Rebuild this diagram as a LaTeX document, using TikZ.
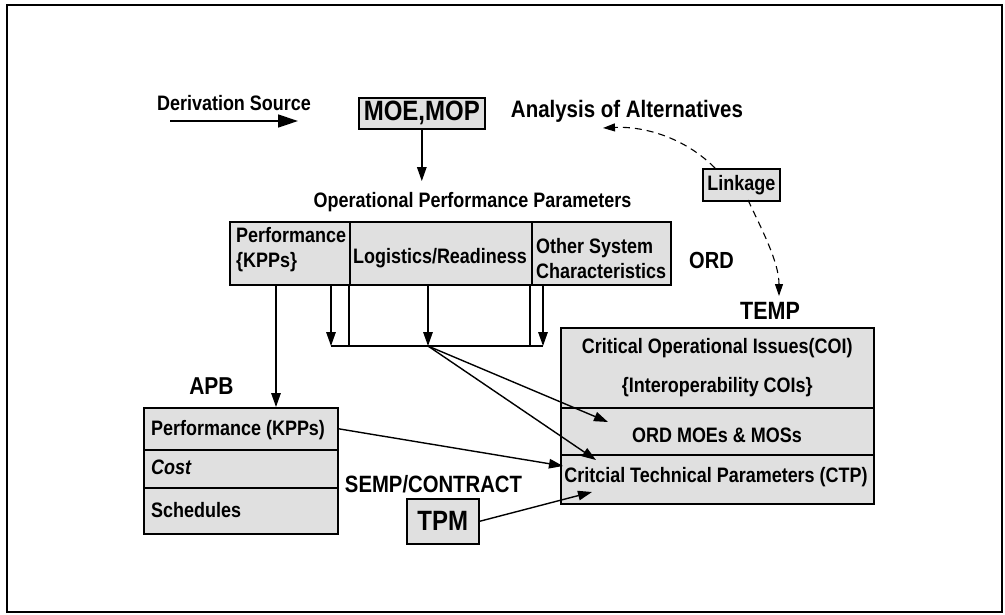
\documentclass[tikz,border=0pt]{standalone}
\usepackage{fontspec}
\setmainfont{Liberation Sans}[FakeStretch=0.86]
\usetikzlibrary{arrows.meta}

\begin{document}
\begin{tikzpicture}[x=1pt,y=-1pt,
  txt/.style={font=\fontsize{20.9}{25}\selectfont\bfseries, inner sep=0pt},
  head/.style={inner sep=0pt, font=\fontsize{#1}{25}\selectfont\bfseries},
  cell/.style={draw, line width=1.6pt, fill=black!12, inner sep=0pt, anchor=north west},
  conn/.style={line width=1.4pt, -{Triangle[length=14pt,width=9.5pt]}},
  plain/.style={line width=1.4pt},
  linkage/.style={line width=1.1pt, dash pattern=on 7pt off 5pt, -{Triangle[length=12pt,width=8pt]}},
]
\useasboundingbox (0,0) rectangle (1005,614);
\draw[line width=1.5pt] (7,5) rectangle (1002,612);

% legend
\node[txt] (deriv) at (234,103) {Derivation Source};
\coordinate (ds1) at (170,121);
\coordinate (ds2) at (298,121);
\draw[line width=1.4pt, -{Triangle[length=20pt,width=13pt]}] (ds1) -- (ds2);

% top row
\node[cell, minimum width=126pt, minimum height=31pt, font=\fontsize{27.9}{30}\selectfont\bfseries] (moe) at (358,97) {MOE,MOP};
\node[head=23.8] (aoa) at (627,111) {Analysis of Alternatives};
\node[cell, minimum width=77pt, minimum height=32pt, font=\fontsize{20.9}{25}\selectfont\bfseries] (link) at (702,168) {Linkage};

% operational requirements document
\node[txt] (opp) at (472.5,202) {Operational Performance Parameters};
\node[cell, minimum width=120pt, minimum height=63pt] (ordA) at (229,221) {};
\node[cell, minimum width=182pt, minimum height=63pt] (ordB) at (349,221) {};
\node[cell, minimum width=139pt, minimum height=63pt] (ordC) at (531,221) {};
\node[txt, anchor=west, align=left] (ordAt) at (236,249.5) {Performance\\\{KPPs\}};
\node[txt] (ordBt) at (440,258) {Logistics/Readiness};
\node[txt, anchor=west, align=left] (ordCt) at (536,258.5) {Other System\\Characteristics};
\node[head=23.3] (ord) at (711.5,260) {ORD};

% test and evaluation master plan
\node[head=25] (temp) at (770,311) {TEMP};
\node[cell, minimum width=313pt, minimum height=80pt, align=center, font=\fontsize{20.9}{39}\selectfont\bfseries] (coi) at (560,327) {Critical Operational Issues(COI)\\\{Interoperability COIs\}};
\node[cell, minimum width=313pt, minimum height=47pt] (moes) at (560,407) {};
\node[txt] (moest) at (717,435) {ORD MOEs \& MOSs};
\node[cell, minimum width=313pt, minimum height=49pt] (ctp) at (560,454) {};
\node[txt] (ctpt) at (716,477) {Critcial Technical Parameters (CTP)};

% acquisition program baseline
\node[head=24.4] (apb) at (211.5,386) {APB};
\node[cell, minimum width=194pt, minimum height=42pt] (apbP) at (143,407) {};
\node[cell, minimum width=194pt, minimum height=38pt] (apbC) at (143,449) {};
\node[cell, minimum width=194pt, minimum height=46pt] (apbS) at (143,487) {};
\node[txt, anchor=west] (apbPt) at (151,430) {Performance (KPPs)};
\node[txt, anchor=west, font=\fontsize{20.9}{25}\selectfont\bfseries\itshape] (apbCt) at (151,467) {Cost};
\node[txt, anchor=west] (apbSt) at (151,510) {Schedules};

\node[head=23.6] (semp) at (433.5,484) {SEMP/CONTRACT};
\node[cell, minimum width=72pt, minimum height=45pt, font=\fontsize{27.9}{30}\selectfont\bfseries] (tpm) at (406,498) {TPM};

% connectors
\draw[conn, shorten >=11pt] (moe) -- (moe |- opp.north);

\coordinate (lkTop) at (715,168);
\coordinate (aoaTip) at (603,128);
\draw[linkage] (lkTop) .. controls (685,138) and (645,126) .. (aoaTip);
\coordinate (lkBot) at (748,200);
\coordinate (tempTip) at (779,296);
\draw[linkage] (lkBot) .. controls (762,230) and (779,262) .. (tempTip);

\coordinate (kpp) at (276,407);
\draw[conn] (ordA.south -| kpp) -- (kpp);

\coordinate (j1) at (331,346);
\coordinate (j2) at (349,346);
\coordinate (jm) at (428,346);
\coordinate (j4) at (530,346);
\coordinate (j5) at (543,346);
\draw[conn] (ordA.south -| j1) -- (j1);
\draw[plain] (ordA.south -| j2) -- (j2);
\draw[conn] (ordB.south -| jm) -- (jm);
\draw[plain] (ordC.south -| j4) -- (j4);
\draw[conn] (ordC.south -| j5) -- (j5);
\draw[plain] (j1) -- (j5);

\coordinate (moesTip) at (608,422);
\coordinate (ctpTip) at (596,460);
\draw[conn] (jm) -- (moesTip);
\draw[conn] (jm) -- (ctpTip);

\coordinate (apbTip) at (563,466);
\draw[conn] (apbP.east) -- (apbTip);
\coordinate (tpmTip) at (592,492);
\draw[conn] (tpm.east) -- (tpmTip);
\end{tikzpicture}
\end{document}
